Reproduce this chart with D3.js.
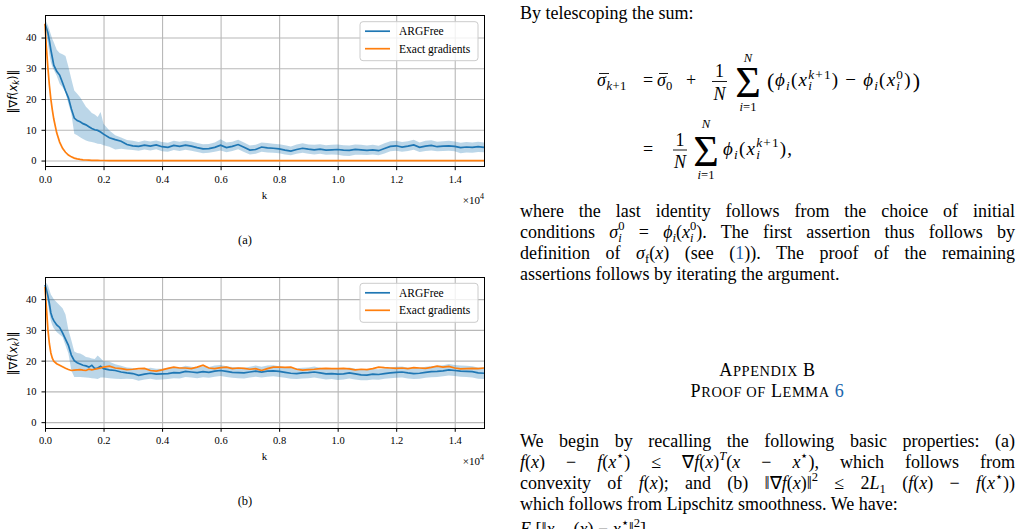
<!DOCTYPE html>
<html>
<head>
<meta charset="utf-8">
<script src="https://cdn.jsdelivr.net/npm/d3@7/dist/d3.min.js"></script>
<style>
html, body { margin: 0; padding: 0; background: #fff; }
body { width: 1028px; height: 529px; overflow: hidden; position: relative;
       font-family: "Liberation Serif", "Times New Roman", serif; color: #000; }
svg { position: absolute; left: 0; top: 0; }
.ln { position: absolute; left: 520px; width: 495px; font-size: 18px; line-height: 21.7px; height: 21.7px; }
.j { text-align: justify; text-align-last: justify; }
.ln sub, .ln sup { font-size: 0.7em; line-height: 0; }
.ln sub { vertical-align: -0.3em; }
.ln sup { vertical-align: 0.6em; }
.ss { display: inline-flex; flex-direction: column; font-size: 0.7em; line-height: 0.95;
      vertical-align: 0.6em; margin: -12px 0; }
.hd { position: absolute; left: 520px; width: 495px; text-align: center; font-size: 18px;
      line-height: 21.7px; letter-spacing: 0.6px; }
.sc { font-size: 0.8em; }
.lk { color: #2166ac; }
</style>
</head>
<body>
<script>
// k values are in units of 1e4
var kVals = [0, 0.005, 0.01, 0.015, 0.02, 0.025, 0.03,
  0.04, 0.05, 0.06, 0.07, 0.08, 0.09, 0.10, 0.11, 0.12, 0.13, 0.14, 0.15, 0.16, 0.17, 0.18, 0.19, 0.20,
  0.22, 0.24, 0.26, 0.28, 0.30, 0.32, 0.34, 0.36, 0.38, 0.40,
  0.42, 0.44, 0.46, 0.48, 0.50, 0.52, 0.54, 0.56, 0.58, 0.60,
  0.62, 0.64, 0.66, 0.68, 0.70, 0.72, 0.74, 0.76, 0.78, 0.80,
  0.82, 0.84, 0.86, 0.88, 0.90, 0.92, 0.94, 0.96, 0.98, 1.00,
  1.02, 1.04, 1.06, 1.08, 1.10, 1.12, 1.14, 1.16, 1.18, 1.20,
  1.22, 1.24, 1.26, 1.28, 1.30, 1.32, 1.34, 1.36, 1.38, 1.40,
  1.42, 1.44, 1.46, 1.48, 1.50];

// panel (a)
var freeA = [44.4, 43.0, 41.5, 39.0, 36.0, 33.5, 31.0,
  29.0, 27.8, 25.3, 22.7, 20.4, 16.8, 13.8, 13.0, 12.6, 12.0, 11.6, 11.0, 10.4, 10.0, 9.8, 9.3, 8.6,
  7.4, 6.8, 6.3, 5.2, 4.8, 4.6, 5.0, 4.7, 5.1, 4.5,
  4.3, 4.9, 4.6, 5.0, 4.7, 4.2, 3.8, 3.9, 4.3, 5.0,
  4.2, 4.6, 5.2, 4.3, 3.4, 3.6, 4.4, 4.1, 4.0, 3.8,
  3.4, 3.1, 3.6, 4.0, 3.7, 3.5, 3.7, 3.4, 3.5, 3.6,
  3.4, 3.3, 3.6, 3.5, 3.3, 3.5, 3.2, 3.9, 4.6, 4.8,
  4.4, 4.7, 5.1, 4.3, 4.7, 4.9, 4.5, 4.7, 4.8, 4.6,
  4.2, 4.4, 4.3, 4.5, 4.3];
var freeHiA = [46.0, 45.0, 44.0, 42.5, 41.0, 39.5, 38.5,
  36.0, 35.0, 34.6, 34.0, 30.5, 26.5, 22.8, 21.7, 20.6, 19.0, 17.5, 16.5, 15.5, 15.0, 14.2, 15.8, 12.0,
  9.8, 8.2, 7.5, 6.7, 6.4, 6.0, 6.5, 6.2, 6.5, 6.0,
  5.8, 6.4, 6.1, 6.4, 6.2, 5.7, 5.3, 5.4, 5.9, 6.9,
  5.9, 6.1, 6.8, 5.9, 4.9, 5.1, 5.9, 5.7, 5.5, 5.3,
  5.0, 4.6, 5.2, 5.6, 5.2, 5.1, 5.3, 5.0, 5.1, 5.2,
  5.0, 4.9, 5.2, 5.1, 4.9, 5.1, 4.8, 5.6, 6.3, 6.4,
  6.0, 6.3, 6.8, 5.9, 6.4, 6.6, 6.1, 6.3, 6.4, 6.2,
  5.8, 6.0, 5.9, 6.1, 5.9];
var freeLoA = [43.0, 41.0, 38.0, 34.5, 32.0, 30.5, 29.5,
  27.6, 25.0, 23.8, 22.2, 18.5, 15.2, 8.7, 8.2, 7.6, 7.0, 6.5, 6.2, 6.0, 5.8, 5.5, 5.4, 5.0,
  4.5, 3.6, 3.8, 3.6, 3.4, 3.2, 3.6, 3.3, 3.7, 3.0,
  2.9, 3.4, 3.1, 3.5, 3.2, 2.8, 2.4, 2.5, 2.9, 3.3,
  2.7, 3.1, 3.7, 2.8, 2.0, 2.2, 2.9, 2.6, 2.5, 2.4,
  2.0, 1.7, 2.2, 2.5, 2.2, 2.0, 2.2, 1.9, 2.0, 1.9,
  1.6, 1.5, 1.9, 1.9, 1.8, 2.0, 1.7, 2.3, 3.0, 3.2,
  2.9, 3.1, 3.5, 2.8, 3.1, 3.3, 3.0, 3.1, 3.2, 3.0,
  2.4, 2.6, 2.5, 2.8, 2.7];
var exactA = [44.5, 36.5, 30.0, 24.5, 20.0, 16.5, 13.5,
  9.0, 6.0, 4.0, 2.7, 1.8, 1.2, 0.8, 0.55, 0.37, 0.25, 0.17, 0.11, 0.07, 0.05, 0.03, 0.02, 0.01,
  0, 0, 0, 0, 0, 0, 0, 0, 0, 0,
  0, 0, 0, 0, 0, 0, 0, 0, 0, 0,
  0, 0, 0, 0, 0, 0, 0, 0, 0, 0,
  0, 0, 0, 0, 0, 0, 0, 0, 0, 0,
  0, 0, 0, 0, 0, 0, 0, 0, 0, 0,
  0, 0, 0, 0, 0, 0, 0, 0, 0, 0,
  0, 0, 0, 0, 0];

// panel (b)
var freeB = [44.6, 43.0, 41.0, 38.5, 35.5, 34.0, 33.0,
  31.6, 30.8, 29.0, 27.0, 25.0, 21.8, 20.0, 19.3, 18.9, 18.5, 18.3, 17.9, 18.5, 17.4, 17.6, 18.2, 17.4,
  17.0, 16.8, 16.3, 16.0, 15.8, 15.2, 15.6, 15.9, 15.6, 15.7,
  15.8, 16.1, 16.0, 16.5, 16.3, 16.1, 16.4, 16.2, 16.6, 16.8,
  16.5, 16.2, 16.1, 16.0, 16.3, 16.6, 16.3, 16.6, 16.7, 16.5,
  16.2, 15.9, 15.8, 16.0, 16.1, 16.3, 16.0, 15.7, 15.8, 15.6,
  15.7, 16.0, 15.7, 15.4, 15.3, 15.6, 15.5, 15.8, 16.0, 16.2,
  16.3, 16.0, 15.8, 15.9, 16.2, 16.4, 16.5, 16.7, 17.0, 16.8,
  16.6, 16.5, 16.4, 16.0, 15.9];
var freeHiB = [45.5, 45.2, 44.5, 43.0, 41.5, 40.8, 40.0,
  39.0, 38.0, 37.0, 35.0, 30.0, 26.6, 23.0, 22.5, 22.3, 21.8, 21.2, 21.0, 20.7, 20.5, 21.7, 20.8, 19.8,
  19.6, 18.8, 18.3, 17.8, 17.6, 17.0, 17.3, 17.7, 17.4, 17.4,
  17.5, 17.9, 17.7, 18.3, 18.0, 17.8, 18.2, 17.9, 18.4, 18.6,
  18.2, 17.9, 17.8, 17.7, 18.0, 18.4, 18.0, 18.4, 18.5, 18.2,
  17.9, 17.6, 17.5, 17.7, 17.8, 18.1, 17.7, 17.4, 17.5, 17.3,
  17.4, 17.8, 17.4, 17.1, 17.0, 17.3, 17.2, 17.5, 17.8, 18.0,
  18.1, 17.7, 17.5, 17.6, 18.0, 18.2, 18.3, 18.5, 18.9, 18.6,
  18.4, 18.3, 18.2, 17.8, 17.7];
var freeLoB = [43.5, 41.5, 38.5, 35.3, 33.0, 31.5, 30.5,
  29.3, 28.5, 27.7, 25.0, 22.3, 16.8, 14.7, 14.7, 14.7, 14.6, 14.5, 14.4, 14.3, 14.2, 14.0, 14.5, 14.5,
  14.3, 14.1, 14.0, 14.1, 14.0, 13.5, 13.9, 14.1, 13.8, 13.9,
  14.0, 14.3, 14.2, 14.7, 14.5, 14.3, 14.6, 14.4, 14.8, 15.0,
  14.7, 14.4, 14.3, 14.2, 14.5, 14.8, 14.5, 14.8, 14.9, 14.7,
  14.4, 14.1, 14.0, 14.2, 14.3, 14.5, 14.2, 13.9, 14.0, 13.7,
  13.9, 14.2, 13.9, 13.6, 13.6, 13.9, 13.8, 14.1, 14.3, 14.4,
  14.5, 14.2, 14.0, 14.1, 14.4, 14.6, 14.7, 14.9, 15.2, 15.0,
  14.8, 14.7, 14.5, 14.1, 14.0];
var exactB = [44.0, 37.0, 30.0, 25.5, 22.5, 20.8, 19.8,
  19.0, 18.5, 18.0, 17.5, 17.1, 16.8, 16.9, 17.0, 17.1, 16.9, 16.8, 17.2, 17.0, 17.2, 17.4, 17.6, 17.9,
  18.2, 17.6, 17.4, 17.1, 17.2, 17.4, 17.5, 16.8, 16.6, 17.0,
  17.5, 17.9, 17.6, 17.6, 17.4, 17.9, 18.5, 17.6, 17.4, 17.7,
  17.9, 17.4, 17.6, 17.5, 17.2, 17.4, 16.8, 17.4, 17.9, 17.9,
  17.8, 17.9, 17.2, 16.9, 17.1, 17.2, 17.4, 17.5, 17.4, 17.4,
  17.5, 17.3, 17.0, 17.2, 17.1, 17.4, 17.9, 17.7, 17.6, 17.5,
  17.6, 17.4, 17.7, 17.6, 17.5, 17.8, 18.2, 17.9, 18.1, 17.6,
  17.3, 17.4, 17.5, 17.4, 17.6];

var xTicks = [0, 0.2, 0.4, 0.6, 0.8, 1.0, 1.2, 1.4];
var yTicks = [0, 10, 20, 30, 40];
var seriesNames = ["ARGFree", "Exact gradients"];
var panelCaptions = ["(a)", "(b)"];

var blue = "#1f77b4", orange = "#ff7f0e";
var serif = "'Liberation Serif', 'Times New Roman', serif";

var svg = d3.select("body").append("svg")
    .attr("width", 1028)
    .attr("height", 529);

function drawPanel(top, mean, lo, hi, exact, caption) {
  var left = 45, right = 484, h = 151;
  var x = d3.scaleLinear().domain([0, 1.5]).range([left, right]);
  var y = d3.scaleLinear().domain([-2.0, 47.1]).range([top + h, top]);

  var rows = kVals.map(function(k, i) {
    return {k: k, m: mean[i], lo: lo[i], hi: hi[i], e: exact[i]};
  });

  var g = svg.append("g");

  //grid
  g.append("g")
      .attr("class", "grid")
      .attr("transform", "translate(0," + (top + h) + ")")
      .call(d3.axisBottom(x).tickValues(xTicks.slice(1)).tickSize(-h).tickFormat(""));
  g.append("g")
      .attr("class", "grid")
      .attr("transform", "translate(" + left + ",0)")
      .call(d3.axisLeft(y).tickValues(yTicks).tickSize(-(right - left)).tickFormat(""));
  g.selectAll(".grid .domain").remove();
  g.selectAll(".grid line")
      .attr("stroke", "#b8b8b8")
      .attr("stroke-width", 1.1);

  //band + lines
  g.append("path")
      .datum(rows)
      .attr("d", d3.area()
          .x(function(d) { return x(d.k); })
          .y0(function(d) { return y(d.lo); })
          .y1(function(d) { return y(d.hi); }))
      .attr("fill", blue)
      .attr("fill-opacity", 0.3);

  g.append("path")
      .datum(rows)
      .attr("d", d3.line()
          .x(function(d) { return x(d.k); })
          .y(function(d) { return y(d.m); }))
      .attr("fill", "none")
      .attr("stroke", blue)
      .attr("stroke-width", 1.7);

  g.append("path")
      .datum(rows)
      .attr("d", d3.line()
          .x(function(d) { return x(d.k); })
          .y(function(d) { return y(d.e); }))
      .attr("fill", "none")
      .attr("stroke", orange)
      .attr("stroke-width", 1.7);

  //spines
  g.append("rect")
      .attr("x", left)
      .attr("y", top)
      .attr("width", right - left)
      .attr("height", h)
      .attr("fill", "none")
      .attr("stroke", "#000")
      .attr("stroke-width", 1)
      .attr("shape-rendering", "crispEdges");

  //axes
  var xa = g.append("g")
      .attr("transform", "translate(0," + (top + h) + ")")
      .call(d3.axisBottom(x).tickValues(xTicks).tickFormat(d3.format(".1f")).tickSize(3.5).tickPadding(5));
  var ya = g.append("g")
      .attr("transform", "translate(" + left + ",0)")
      .call(d3.axisLeft(y).tickValues(yTicks).tickSize(3.5).tickPadding(5));
  [xa, ya].forEach(function(a) {
    a.select(".domain").remove();
    a.attr("font-family", serif).attr("font-size", 10.5);
    a.selectAll("text").attr("fill", "#000");
    a.selectAll("line").attr("stroke", "#000");
  });

  g.append("text")
      .attr("x", (left + right) / 2)
      .attr("y", top + h + 32)
      .attr("text-anchor", "middle")
      .attr("font-family", serif)
      .attr("font-size", 11)
      .text("k");

  var off = g.append("text")
      .attr("x", right)
      .attr("y", top + h + 37)
      .attr("text-anchor", "end")
      .attr("font-family", serif)
      .attr("font-size", 11);
  off.append("tspan").text("\u00d710");
  off.append("tspan").attr("dy", -5).attr("font-size", 8).text("4");

  var yl = g.append("text")
      .attr("transform", "translate(16.5," + (top + 76) + ") rotate(-90)")
      .attr("text-anchor", "middle")
      .attr("font-family", "'DejaVu Sans', sans-serif")
      .attr("font-size", 11.5);
  yl.append("tspan").text("\u2016\u2207");
  yl.append("tspan").attr("font-style", "italic").text("f");
  yl.append("tspan").text("(");
  yl.append("tspan").attr("font-style", "italic").text("x");
  yl.append("tspan").attr("font-style", "italic").attr("font-size", 8).attr("dy", 2.5).text("k");
  yl.append("tspan").attr("dy", -2.5).text(")\u2016");

  //legend
  var lg = g.append("g").attr("transform", "translate(360," + (top + 6) + ")");
  lg.append("rect")
      .attr("width", 118)
      .attr("height", 39)
      .attr("rx", 3)
      .attr("fill", "#fff")
      .attr("fill-opacity", 0.8)
      .attr("stroke", "#cccccc");
  [blue, orange].forEach(function(c, i) {
    lg.append("line")
        .attr("x1", 5).attr("x2", 30)
        .attr("y1", 9.5 + i * 17.5).attr("y2", 9.5 + i * 17.5)
        .attr("stroke", c)
        .attr("stroke-width", 1.7);
    lg.append("text")
        .attr("x", 39)
        .attr("y", 13.5 + i * 17.5)
        .attr("font-family", serif)
        .attr("font-size", 11.5)
        .text(seriesNames[i]);
  });

  svg.append("text")
      .attr("x", 245)
      .attr("y", top + 228)
      .attr("text-anchor", "middle")
      .attr("font-family", serif)
      .attr("font-size", 12.5)
      .text(caption);
}

drawPanel(15.7, freeA, freeLoA, freeHiA, exactA, panelCaptions[0]);
drawPanel(277.3, freeB, freeLoB, freeHiB, exactB, panelCaptions[1]);

// ---- right column text ----
function ss(sup, sub) {
  return '<span class="ss"><span>' + sup + '</span><span><i>' + sub + '</i></span></span>';
}

var textLines = [
  {y: 20, h: "By telescoping the sum:"},
  {y: 218, j: 1, h: "where the last identity follows from the choice of initial"},
  {y: 238.8, j: 1, h: "conditions <i>σ</i>" + ss("0", "i") + " = <i>ϕ</i><sub><i>i</i></sub>(<i>x</i>" + ss("0", "i") + "). The first assertion thus follows by"},
  {y: 259.6, j: 1, h: "definition of <i>σ</i><sub>f</sub>(<i>x</i>) (see (<span class='lk'>1</span>)). The proof of the remaining"},
  {y: 280.4, h: "assertions follows by iterating the argument."},
  {y: 448, j: 1, h: "We begin by recalling the following basic properties: (a)"},
  {y: 468.8, j: 1, h: "<i>f</i>(<i>x</i>) − <i>f</i>(<i>x</i><sup>⋆</sup>) ≤ ∇<i>f</i>(<i>x</i>)<sup><i>T</i></sup>(<i>x</i> − <i>x</i><sup>⋆</sup>), which follows from"},
  {y: 489.6, j: 1, h: "convexity of <i>f</i>(<i>x</i>); and (b) ‖∇<i>f</i>(<i>x</i>)‖<sup>2</sup> ≤ 2<i>L</i><sub>1</sub> (<i>f</i>(<i>x</i>) − <i>f</i>(<i>x</i><sup>⋆</sup>))"},
  {y: 510.4, h: "which follows from Lipschitz smoothness. We have:"},
  {y: 536, h: "<i>E</i> [‖<i>x</i><sub><i>k</i>+1</sub>(<i>x</i>) − <i>x</i><sup>⋆</sup>‖<sup>2</sup>]"}
];
var headLines = [
  {y: 377, h: "A<span class='sc'>PPENDIX</span> B"},
  {y: 398, h: "P<span class='sc'>ROOF OF</span> L<span class='sc'>EMMA</span> <span class='lk'>6</span>"}
];

textLines.forEach(function(l) {
  d3.select("body").append("div")
      .attr("class", l.j ? "ln j" : "ln")
      .style("top", (l.y - 16.9) + "px")
      .html(l.h);
});
headLines.forEach(function(l) {
  d3.select("body").append("div")
      .attr("class", "hd")
      .style("top", (l.y - 16.9) + "px")
      .html(l.h);
});

// ---- display equations ----
var eq = svg.append("g").attr("font-family", serif);

// runs: t text, i italic, o 0/"sub"/"sup", back: stack under previous sup
function mathText(x, y, runs, fs, ls) {
  var t = eq.append("text").attr("x", x).attr("y", y).attr("font-size", fs)
      .attr("letter-spacing", ls || 0);
  var cur = 0, supW = 0, subW = 0, pendingDx = 0;
  runs.forEach(function(r) {
    var off = r.o === "sub" ? 0.22 * fs : (r.o === "sup" ? -0.38 * fs : 0);
    var sp = t.append("tspan")
        .attr("dy", off - cur)
        .attr("font-size", r.o ? fs * 0.7 : fs)
        .attr("font-style", r.i ? "italic" : "normal")
        .text(r.t);
    cur = off;
    var w = sp.node().getComputedTextLength();
    if (r.o === "sup") { supW += w; subW = 0; }
    else if (r.o === "sub" && r.back) { sp.attr("dx", -supW); subW = w; pendingDx = supW - subW; }
    else if (r.o === "sub" && subW > 0) { subW += w; pendingDx = supW - subW; }
    else {
      if (pendingDx > 0) sp.attr("dx", pendingDx);
      pendingDx = 0; supW = 0; subW = 0;
    }
  });
  return t;
}

function rightEdge(t) {
  var b = t.node().getBBox();
  return b.x + b.width;
}

function bar(x1, x2, y) {
  eq.append("line").attr("x1", x1).attr("x2", x2).attr("y1", y).attr("y2", y)
      .attr("stroke", "#000").attr("stroke-width", 0.9);
}

function sumSign(cx, base, top, bottom) {
  eq.append("text").attr("x", cx).attr("y", base).attr("text-anchor", "middle")
      .attr("font-size", 44).text("Σ");
  eq.append("text").attr("x", cx).attr("y", top).attr("text-anchor", "middle")
      .attr("font-size", 12.6).attr("font-style", "italic").text("N");
  var b = eq.append("text").attr("x", cx).attr("y", bottom).attr("text-anchor", "middle")
      .attr("font-size", 12.6);
  b.append("tspan").attr("font-style", "italic").text("i");
  b.append("tspan").text("=1");
}

function frac(cx, barY, x1, x2) {
  eq.append("text").attr("x", cx).attr("y", barY - 4.5).attr("text-anchor", "middle")
      .attr("font-size", 18).text("1");
  bar(x1, x2, barY);
  eq.append("text").attr("x", cx).attr("y", barY + 18).attr("text-anchor", "middle")
      .attr("font-size", 18).attr("font-style", "italic").text("N");
}

// line 1
mathText(597, 86, [{t: "σ", i: 1}, {t: "k", i: 1, o: "sub"}, {t: "+1", o: "sub"}], 18, 0.5);
bar(599, 609, 73.5);
mathText(643, 86, [{t: "="}], 18);
mathText(657, 86, [{t: "σ", i: 1}, {t: "0", o: "sub"}], 18);
bar(659, 668, 73.5);
mathText(686, 86, [{t: "+"}], 18);
frac(719.5, 81.5, 712, 727);
sumSign(748, 97, 62, 110.5);
mathText(767, 87.5, [{t: "("}], 22);
var inner = mathText(775, 86, [{t: "ϕ", i: 1}, {t: "i", i: 1, o: "sub"}, {t: "("}, {t: "x", i: 1},
  {t: "k", i: 1, o: "sup"}, {t: "+1", o: "sup"}, {t: "i", i: 1, o: "sub", back: 1},
  {t: ")  −  "}, {t: "ϕ", i: 1}, {t: "i", i: 1, o: "sub"}, {t: "("}, {t: "x", i: 1},
  {t: "0", o: "sup"}, {t: "i", i: 1, o: "sub", back: 1}, {t: ")"}], 19, 1.2);
mathText(rightEdge(inner) + 1, 87.5, [{t: ")"}], 22);

// line 2
mathText(643, 154.5, [{t: "="}], 18);
frac(680, 150, 673, 687);
sumSign(706, 166, 128, 179);
mathText(723, 154.5, [{t: "ϕ", i: 1}, {t: "i", i: 1, o: "sub"}, {t: "("}, {t: "x", i: 1},
  {t: "k", i: 1, o: "sup"}, {t: "+1", o: "sup"}, {t: "i", i: 1, o: "sub", back: 1},
  {t: "),"}], 19, 1.2);
</script>
</body>
</html>
